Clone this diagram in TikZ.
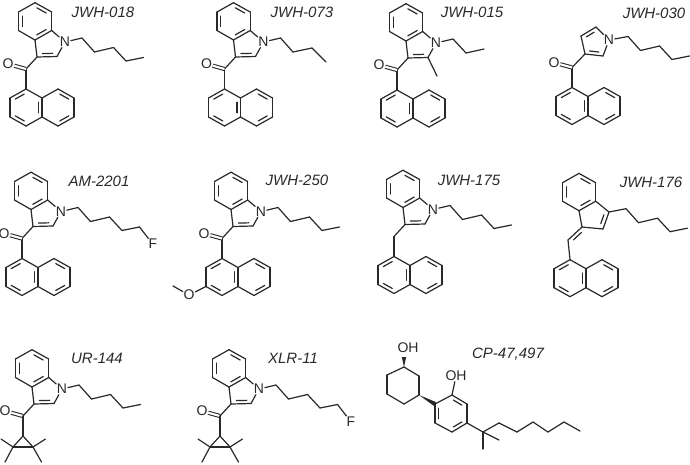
\documentclass[tikz,border=0pt]{standalone}
\usepackage{fontspec}
\setmainfont{Liberation Sans}
\usetikzlibrary{calc}
\definecolor{ink}{gray}{0.16}
\tikzset{
bond/.style={draw=ink,line width=1.2pt,line cap=round,line join=round},
dbl/.style={draw=ink,line width=1.05pt,double,double distance=2.1pt},
atom/.style={inner sep=.6pt,text=ink,font=\fontsize{14}{14}\selectfont},
lbl/.style={inner sep=0pt,text=ink,font=\fontsize{15}{16}\selectfont\itshape}
}
\newcommand{\bonds}[1]{\foreach \from/\to in {#1} \draw[bond] (\from) -- (\to);}
\newcommand{\innerbond}[4][.22]{\draw[bond] ($(#2)!.14!(#3)!#1!(#4)$) -- ($(#3)!.14!(#2)!#1!(#4)$);}
\newcommand{\benzoring}{
\coordinate (top) at (35,2.7);
\coordinate (ur) at (51.7,12);
\coordinate (lr) at (51.7,30.5);
\coordinate (bt) at (35,40);
\coordinate (ll) at (18.5,30.5);
\coordinate (ul) at (18.5,12);
\coordinate (bc) at (35,21.3);
\bonds{top/ur,ur/lr,lr/bt,bt/ll,ll/ul,ul/top}
\innerbond{ul}{ll}{bc}
\innerbond{top}{ur}{bc}
\innerbond{bt}{lr}{bc}
}
\newcommand{\indolering}{
\benzoring
\node[atom] (n) at (65,42) {N};
\coordinate (c2) at (57,56.5);
\coordinate (c3) at (37,57);
\coordinate (pc) at (49,45);
\bonds{lr/n,n/c2,c2/c3,c3/bt}
\innerbond[.28]{c3}{c2}{pc}
}
\newcommand{\linker}{
\coordinate (co) at (26,69);
\coordinate (nt) at (26,89);
\bonds{c3/co,co/nt}
}
\newcommand{\oxo}{
\node[atom] (o) at (8,64) {O};
\draw[dbl] (co) -- (o);
}
\newcommand{\naphthyl}{
\coordinate (nul) at (10,98);
\coordinate (nll) at (10,117);
\coordinate (nbl) at (26,126);
\coordinate (nm1) at (42,98);
\coordinate (nm2) at (42,117);
\coordinate (ntr) at (58,89);
\coordinate (nur) at (74,98);
\coordinate (nlr) at (74,117);
\coordinate (nbr) at (58,126);
\coordinate (ncl) at (26,107.5);
\coordinate (ncr) at (58,107.5);
\bonds{nt/nul,nul/nll,nll/nbl,nbl/nm2,nm2/nm1,nm1/nt,nm1/ntr,ntr/nur,nur/nlr,nlr/nbr,nbr/nm2}
\innerbond{nt}{nul}{ncl}
\innerbond{nll}{nbl}{ncl}
\innerbond{nm1}{nm2}{ncl}
\innerbond{ntr}{nur}{ncr}
\innerbond{nbr}{nlr}{ncr}
}
\newcommand{\pentyl}[1]{
\coordinate (p1) at (82,38);
\coordinate (p2) at (94.5,52);
\coordinate (p3) at (113.5,47.5);
\coordinate (p4) at (126,61);
\coordinate (p5) at (143.5,57.5);
\bonds{#1/p1,p1/p2,p2/p3,p3/p4,p4/p5}
}
\newcommand{\cyclopropyl}{
\coordinate (cpt) at (26,89);
\coordinate (cpl) at (16,100);
\coordinate (cpr) at (36,100);
\coordinate (me1) at (4,92);
\coordinate (me2) at (8,115);
\coordinate (me3) at (48.5,92);
\coordinate (me4) at (44.5,115);
\bonds{co/cpt,c3/co,cpt/cpl,cpl/cpr,cpr/cpt,cpl/me1,cpl/me2,cpr/me3,cpr/me4}
}
\newcommand{\fluoropentyl}{
\coordinate (p6) at (152,68.5);
\node[atom] (f) at (157,74.5) {F};
\pentyl{n}
\bonds{p5/p6,p6/f}
}
\begin{document}
\begin{tikzpicture}[x=1pt,y=-1pt]
\useasboundingbox (0,0) rectangle (690,464);

\begin{scope}[name prefix=a-]
\indolering \linker \oxo \naphthyl \pentyl{n}
\node[lbl] (name) at (103,12) {JWH-018};
\end{scope}

\begin{scope}[shift={(198.5,0)},name prefix=b-]
\indolering \linker \oxo \naphthyl
\coordinate (p1) at (82,38);
\coordinate (p2) at (94.5,52);
\coordinate (p3) at (113.5,48);
\coordinate (p4) at (127.5,62);
\bonds{n/p1,p1/p2,p2/p3,p3/p4}
\node[lbl] (name) at (103.5,12) {JWH-073};
\end{scope}

\begin{scope}[shift={(371,1)},name prefix=c-]
\indolering \linker \oxo \naphthyl
\coordinate (me) at (66,75);
\coordinate (p1) at (82,38);
\coordinate (p2) at (95,52);
\coordinate (p3) at (113,48);
\bonds{c2/me,n/p1,p1/p2,p2/p3}
\node[lbl] (name) at (101,11.5) {JWH-015};
\end{scope}

\begin{scope}[shift={(546,-1.5)},name prefix=d-]
\coordinate (c3) at (39,55.5);
\coordinate (c4) at (35,37.5);
\coordinate (c5) at (50,28.5);
\node[atom] (n) at (63,41.5) {N};
\coordinate (c2) at (57,57.5);
\coordinate (pc) at (48.5,44);
\bonds{c3/c4,c4/c5,c5/n,n/c2,c2/c3}
\innerbond[.28]{c4}{c5}{pc}
\innerbond[.28]{c3}{c2}{pc}
\linker \oxo \naphthyl \pentyl{n}
\node[lbl] (name) at (108,14.5) {JWH-030};
\end{scope}

\begin{scope}[shift={(-4,169.5)},name prefix=e-]
\indolering \linker \oxo \naphthyl \fluoropentyl
\node[lbl] (name) at (103,11.5) {AM-2201};
\end{scope}

\begin{scope}[shift={(196,169.5)},name prefix=f-]
\indolering \linker \oxo \naphthyl \pentyl{n}
\node[atom] (om) at (-7,125.5) {O};
\coordinate (me) at (-23,116.5);
\bonds{nll/om,om/me}
\node[lbl] (name) at (101,10.5) {JWH-250};
\end{scope}

\begin{scope}[shift={(368,167.5)},name prefix=g-]
\indolering \linker \naphthyl \pentyl{n}
\node[lbl] (name) at (101,12.5) {JWH-175};
\end{scope}

\begin{scope}[shift={(544,170.7)},name prefix=h-]
\benzoring
\coordinate (c3) at (65,41.3);
\coordinate (c2) at (59,58.3);
\coordinate (c1) at (38,56.3);
\coordinate (ex) at (24,69.3);
\coordinate (nt) at (26,89);
\coordinate (pc) at (49,45);
\coordinate (es) at (42,75);
\bonds{lr/c3,c3/c2,c2/c1,c1/bt,c1/ex,ex/nt}
\innerbond[.28]{c3}{c2}{pc}
\innerbond{c1}{ex}{es}
\naphthyl \pentyl{c3}
\node[lbl] (name) at (107,11.3) {JWH-176};
\end{scope}

\begin{scope}[shift={(-3,347)},name prefix=i-]
\indolering
\coordinate (co) at (26,69);
\oxo \cyclopropyl \pentyl{n}
\node[lbl] (name) at (100,11) {UR-144};
\end{scope}

\begin{scope}[shift={(194,347)},name prefix=j-]
\indolering
\coordinate (co) at (26,69);
\oxo \cyclopropyl \fluoropentyl
\node[lbl] (name) at (99,11) {XLR-11};
\end{scope}

\begin{scope}[name prefix=k-]
\coordinate (r1) at (404,367);
\coordinate (r2) at (419,376);
\coordinate (r3) at (419,395);
\coordinate (r4) at (404,404);
\coordinate (r5) at (387,394);
\coordinate (r6) at (387,375);
\coordinate (a1) at (435,404);
\coordinate (a2) at (452,395);
\coordinate (a3) at (467,404);
\coordinate (a4) at (467,423);
\coordinate (a5) at (452,432);
\coordinate (a6) at (435,423);
\coordinate (ac) at (451,413.5);
\coordinate (q) at (483,432);
\coordinate (m1) at (499,440);
\coordinate (m2) at (483,449);
\coordinate (s1) at (499,423);
\coordinate (s2) at (517,432);
\coordinate (s3) at (533,422);
\coordinate (s4) at (548,432);
\coordinate (s5) at (564,422);
\coordinate (s6) at (580,431);
\node[atom] (oh1) at (408,348) {OH};
\node[atom] (oh2) at (456,376) {OH};
\bonds{r1/r2,r2/r3,r3/r4,r4/r5,r5/r6,r6/r1,a1/a2,a2/a3,a3/a4,a4/a5,a5/a6,a6/a1,a2/oh2,a4/q,q/m1,q/m2,q/s1,s1/s2,s2/s3,s3/s4,s4/s5,s5/s6}
\innerbond{a2}{a3}{ac}
\innerbond{a4}{a5}{ac}
\innerbond{a6}{a1}{ac}
\fill[ink] (r1) -- ($(r1)+(-2.2,-10)$) -- ($(r1)+(2.2,-10)$) -- cycle;
\fill[ink] (r3) -- ($(a1)+(1.1,-1.9)$) -- ($(a1)+(-1.1,1.9)$) -- cycle;
\node[lbl] (name) at (508,354) {CP-47,497};
\end{scope}
\end{tikzpicture}
\end{document}
